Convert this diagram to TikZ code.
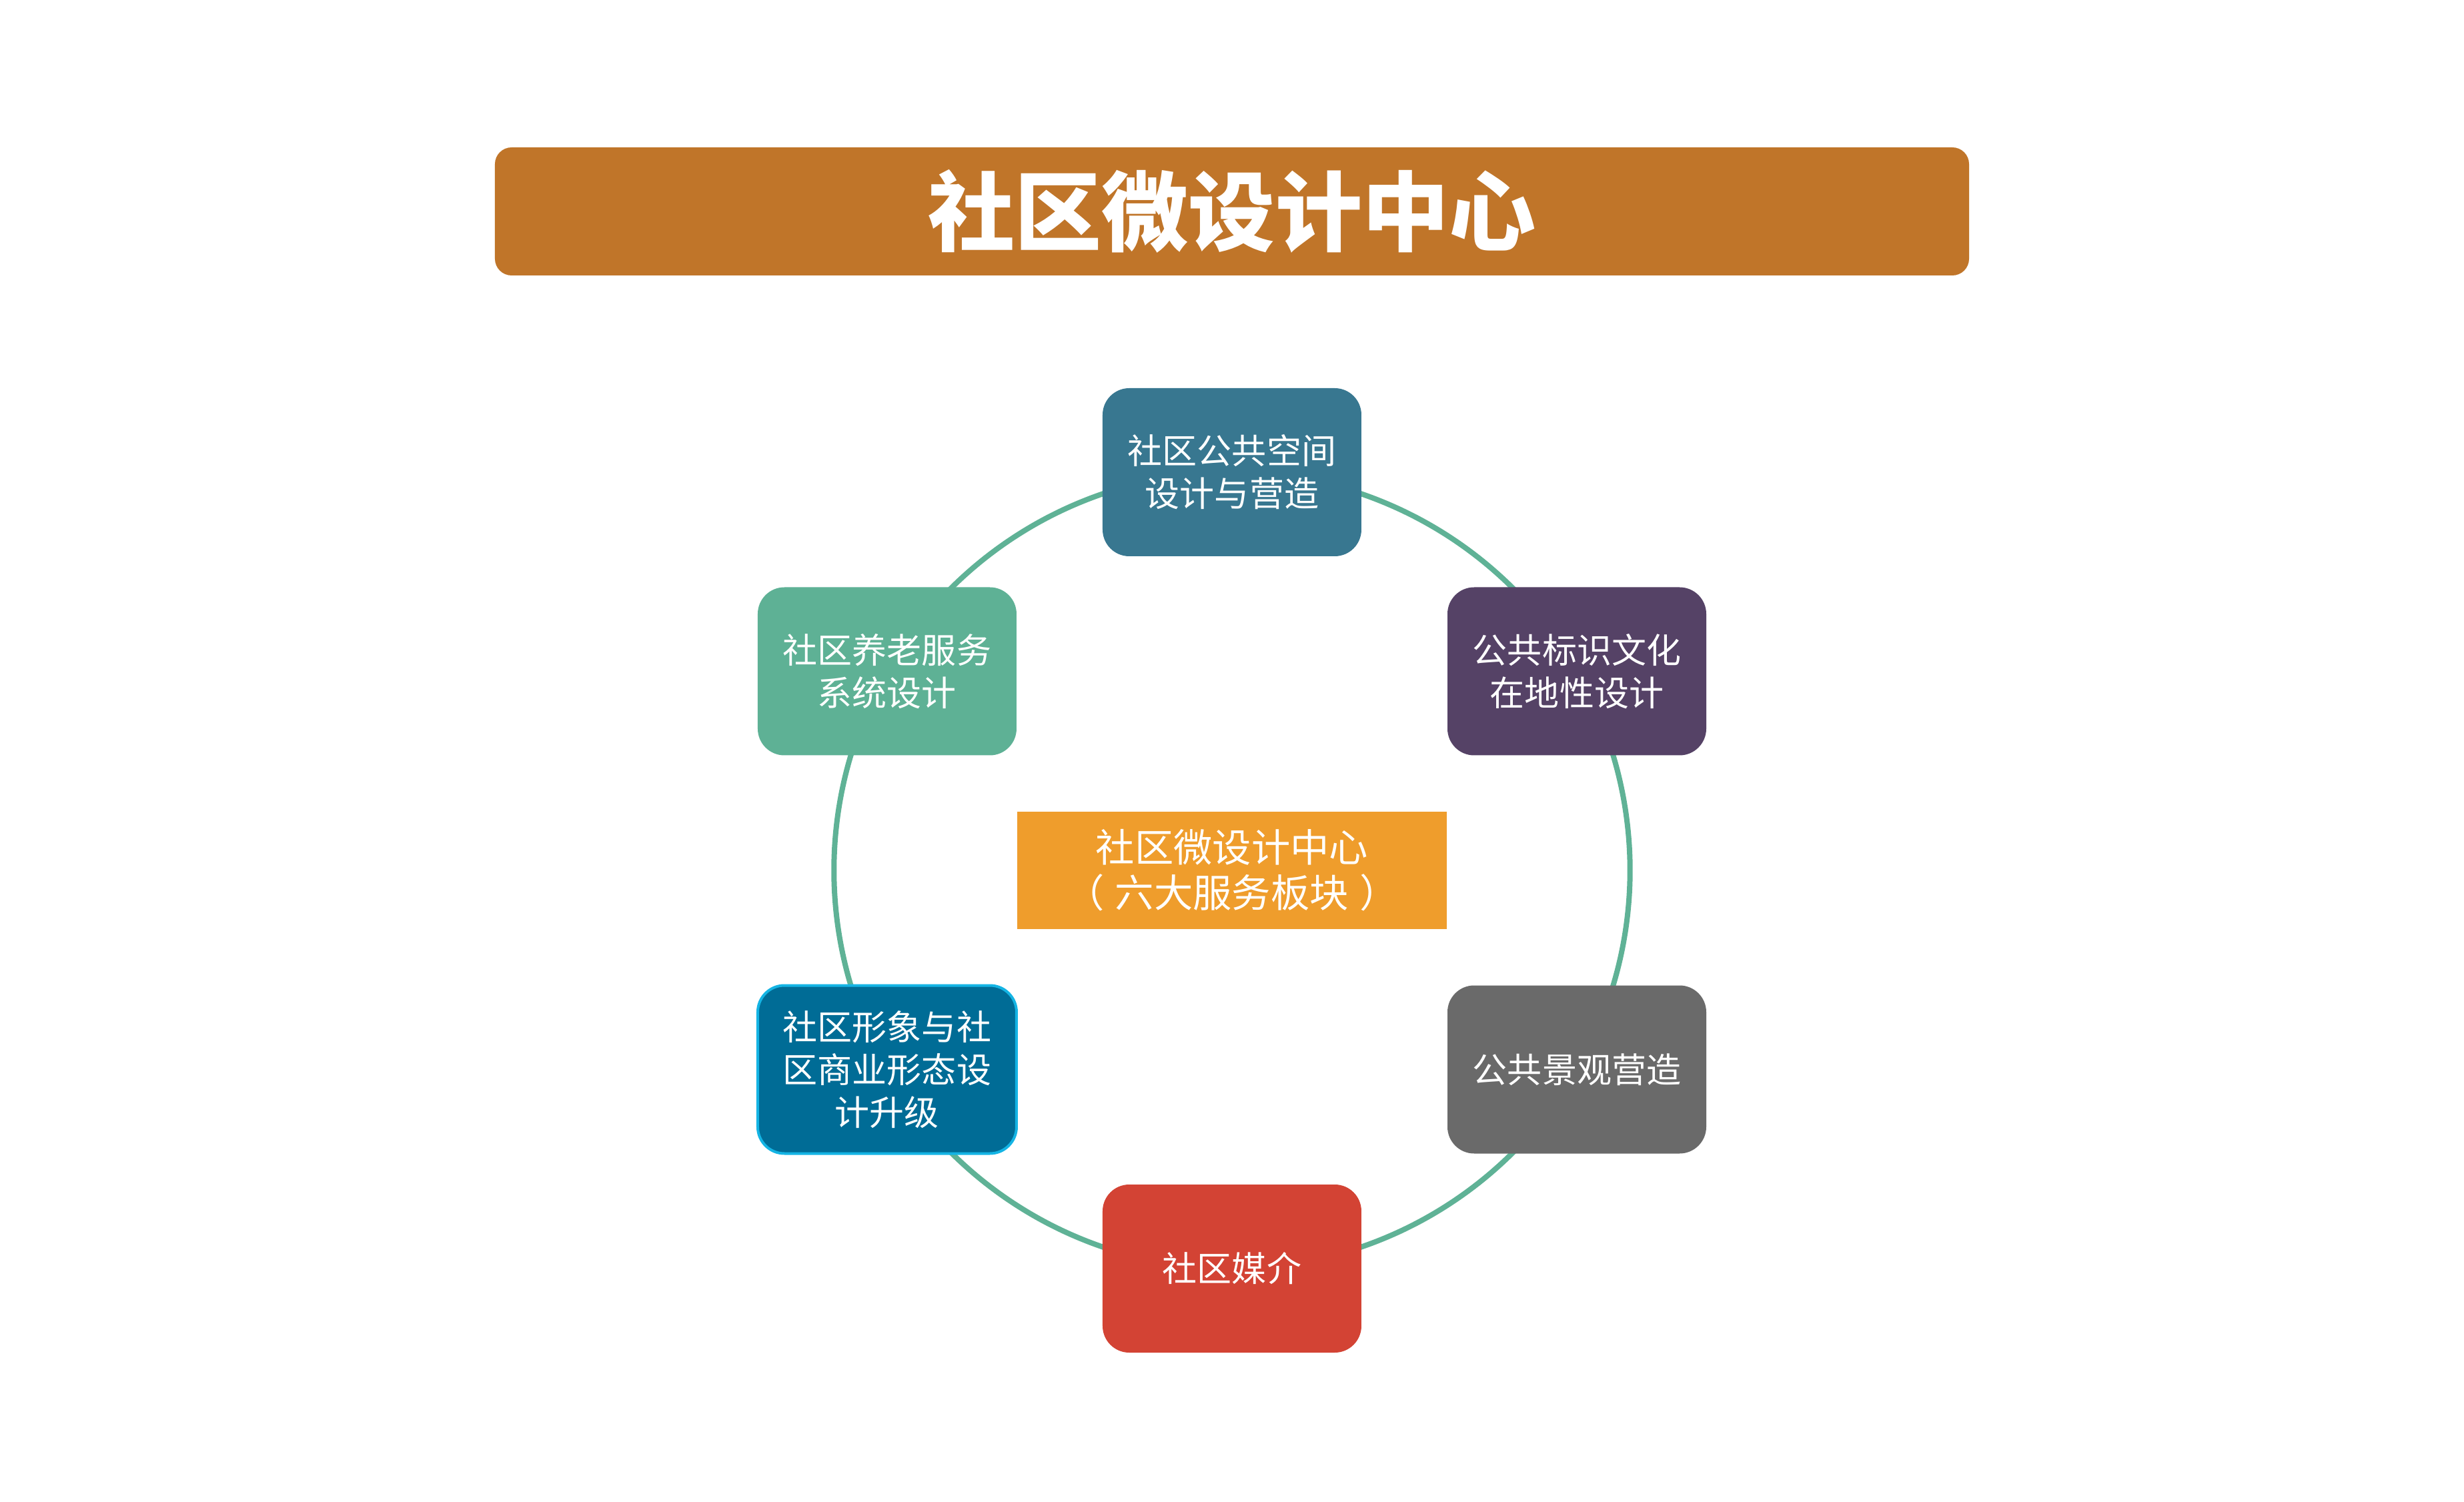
\documentclass[tikz,border=0pt]{standalone}
\usepackage{fontspec}
\setmainfont{Noto Sans CJK SC}
\usetikzlibrary{positioning,backgrounds}
\definecolor{bannerbrown}{RGB}{192,117,41}
\definecolor{ringgreen}{RGB}{95,178,150}
\definecolor{boxteal}{RGB}{56,119,144}
\definecolor{boxgreen}{RGB}{94,177,149}
\definecolor{boxpurple}{RGB}{85,66,102}
\definecolor{boxblue}{RGB}{0,108,150}
\definecolor{boxcyan}{RGB}{20,180,228}
\definecolor{boxgray}{RGB}{106,106,106}
\definecolor{boxred}{RGB}{211,67,52}
\definecolor{huborange}{RGB}{239,157,44}
\tikzset{
    ringnode/.style={
        rectangle,rounded corners=4mm,minimum width=3.88cm,minimum height=2.52cm,text=white,align=center,font=\fontsize{14.8}{18.2}\selectfont
    },
    hubnode/.style={
        rectangle,fill=huborange,minimum width=6.44cm,minimum height=1.75cm,text=white,align=center,font=\fontsize{16.6}{19.4}\selectfont
    },
    bannernode/.style={
        rectangle,rounded corners=2.5mm,fill=bannerbrown,minimum width=22.1cm,minimum height=1.92cm,text=white,font=\bfseries\fontsize{37}{44}\selectfont
    },
    ringarc/.style={
        draw=ringgreen,line width=.08cm,looseness=.913
    }
}

\begin{document}
\begin{tikzpicture}
\useasboundingbox (-18.47,-9.46) rectangle (18.47,13.05);
\node[bannernode] (banner) at (0,9.88) {社区微设计中心};
\node[hubnode] (hub) at (0,0) {社区微设计中心\\（\hspace{.28em}六大服务板块\hspace{.28em}）};
\node[ringnode,fill=boxteal] (n1) at (90:5.97) {社区公共空间\\设计与营造};
\node[ringnode,fill=boxgreen] (n2) at (150:5.97) {社区养老服务\\系统设计};
\node[ringnode,fill=boxblue,draw=boxcyan,line width=.04cm] (n3) at (210:5.97) {社区形象与社\\区商业形态设\\计升级};
\node[ringnode,fill=boxred] (n4) at (270:5.97) {社区媒介};
\node[ringnode,fill=boxgray] (n5) at (330:5.97) {公共景观营造};
\node[ringnode,fill=boxpurple] (n6) at (30:5.97) {公共标识文化\\在地性设计};
\begin{scope}[on background layer]
\draw[ringarc] (n1.center) to[bend right=30] (n2.center);
\draw[ringarc] (n2.center) to[bend right=30] (n3.center);
\draw[ringarc] (n3.center) to[bend right=30] (n4.center);
\draw[ringarc] (n4.center) to[bend right=30] (n5.center);
\draw[ringarc] (n5.center) to[bend right=30] (n6.center);
\draw[ringarc] (n6.center) to[bend right=30] (n1.center);
\end{scope}
\end{tikzpicture}
\end{document}
